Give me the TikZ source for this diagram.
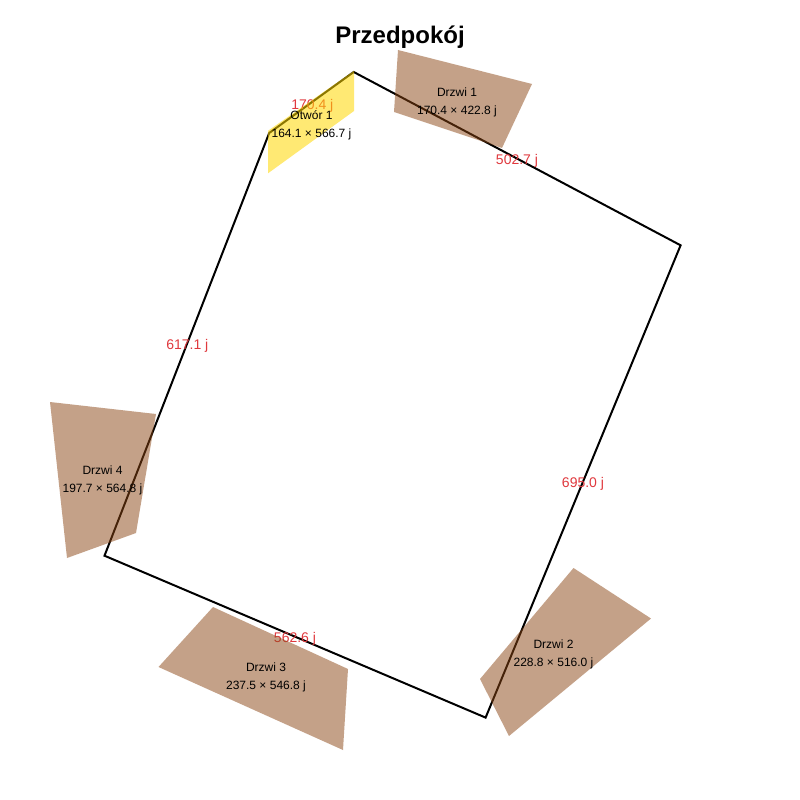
\documentclass[tikz,border=0pt]{standalone}
\usepackage{fontspec}
\setmainfont{Liberation Sans}
\tikzset{
  wall/.style={draw=black,line width=2pt,line join=miter},
  door/.style={fill=doorbrown,fill opacity=0.5,draw=none},
  opening/.style={fill=openyellow,fill opacity=0.55,draw=none},
  dim/.style={text=dimred,font=\fontsize{14}{16}\selectfont,inner sep=0pt,anchor=base},
  lab/.style={text=black,font=\fontsize{12}{14}\selectfont,inner sep=0pt,anchor=base},
  ttl/.style={text=black,font=\fontsize{24}{28}\selectfont\bfseries,inner sep=0pt,anchor=base}
}
\definecolor{doorbrown}{HTML}{8B4513}
\definecolor{openyellow}{HTML}{FFD700}
\definecolor{dimred}{HTML}{E0393E}
\begin{document}
\begin{tikzpicture}[x=1pt,y=-1pt]
\useasboundingbox (0,0) rectangle (800,800);
\fill[white] (0,0) rectangle (800,800);
\draw[wall] (353.7,72) -- (680.6,245.3) -- (485.6,717.6) -- (104.5,555.7) -- (269.2,133) -- cycle;
\node[dim] (d1) at (312.3,109) {170.4 j};
\node[dim] (d2) at (517,164) {502.7 j};
\node[dim] (d3) at (583,487) {695.0 j};
\node[dim] (d4) at (295,642) {562.6 j};
\node[dim] (d5) at (187.3,349) {617.1 j};
\fill[opening] (268,130.8) -- (354,70.8) -- (354,111) -- (268,173.3) -- cycle;
\fill[door] (398,50) -- (532,84) -- (502,148) -- (394,112) -- cycle;
\fill[door] (573.5,568) -- (651,618.5) -- (509,736) -- (480,679) -- cycle;
\fill[door] (213,607) -- (348,669) -- (343,750) -- (158.5,667) -- cycle;
\fill[door] (50,402) -- (156,414) -- (136,533) -- (67,558) -- cycle;
\node[ttl] (title) at (400,44) {Przedpokój};
\node[lab] (o1a) at (311.5,119) {Otwór 1};
\node[lab] (o1b) at (311.5,137) {164.1 × 566.7 j};
\node[lab] (a1) at (457,96) {Drzwi 1};
\node[lab] (b1) at (457,114) {170.4 × 422.8 j};
\node[lab] (a2) at (553.5,648) {Drzwi 2};
\node[lab] (b2) at (553.5,666) {228.8 × 516.0 j};
\node[lab] (a3) at (266,671) {Drzwi 3};
\node[lab] (b3) at (266,689) {237.5 × 546.8 j};
\node[lab] (a4) at (102.5,474) {Drzwi 4};
\node[lab] (b4) at (102.5,492) {197.7 × 564.8 j};
\end{tikzpicture}
\end{document}
